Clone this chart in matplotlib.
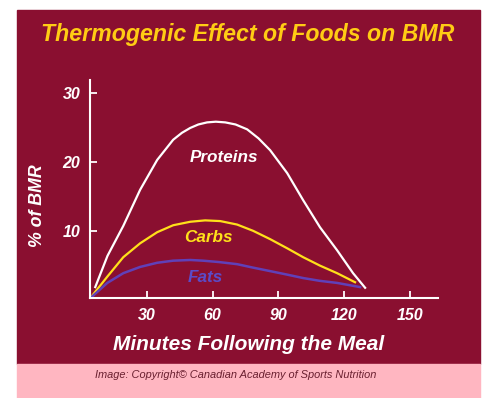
import matplotlib.pyplot as plt
from matplotlib.patches import Rectangle

# valores (minutos, % de BMR)
prot_min = [6.4, 12.0, 19.2, 26.9, 34.7, 42.0, 46.0, 49.8, 53.5, 57.5, 61.5, 65.8, 70.5, 75.8, 81.0,
            86.3, 94.1, 101.4, 109.1, 116.9, 124.2, 129.7]
prot_bmr = [2.0, 6.5, 10.8, 16.0, 20.3, 23.2, 24.2, 24.9, 25.4, 25.7, 25.8, 25.7, 25.4, 24.7, 23.4,
            21.7, 18.4, 14.5, 10.6, 7.3, 4.0, 1.9]

carb_min = [4.1, 11.9, 19.2, 26.9, 34.7, 42.0, 49.8, 56.6, 63.5, 71.2, 78.5, 86.3, 94.0, 101.4, 109.0, 116.9, 125.1]
carb_bmr = [0.4, 3.5, 6.3, 8.3, 9.9, 10.9, 11.4, 11.6, 11.5, 11.0, 10.1, 8.9, 7.6, 6.3, 5.1, 4.0, 2.7]

fat_min = [4.1, 11.9, 19.2, 26.9, 34.7, 42.0, 49.8, 55.7, 63.0, 71.2, 78.5, 86.3, 94.0, 101.4, 109.0, 116.9, 127.4]
fat_bmr = [0.4, 2.6, 4.0, 4.9, 5.5, 5.8, 5.9, 5.8, 5.6, 5.3, 4.8, 4.3, 3.8, 3.3, 2.9, 2.6, 2.0]

xticks = [30, 60, 90, 120, 150]
yticks = [10, 20, 30]

granate = '#8a0f30'
rosa = '#ffb6c1'
fuente = 'Liberation Sans'

fig = plt.figure(figsize=(4.96, 3.98), dpi=100, facecolor='white')
fig.patches.append(Rectangle((17/496, 1-364/398), 463/496, 354/398,
                             transform=fig.transFigure, color=granate, zorder=-2))
fig.patches.append(Rectangle((17/496, 0), 463/496, 34/398,
                             transform=fig.transFigure, color=rosa, zorder=-2))

ax = fig.add_axes([90/496, 1-298/398, 348/496, 218/398])
ax.set_zorder(2)
ax.set_facecolor('none')
ax.plot(prot_min, prot_bmr, color='white', lw=1.6)
ax.plot(carb_min, carb_bmr, color='#ffe01a', lw=1.6)
ax.plot(fat_min, fat_bmr, color='#6040b8', lw=1.8)

ax.set_xlim(4, 163)
ax.set_ylim(0.43, 31.8)
for s in ['top', 'right']:
    ax.spines[s].set_visible(False)
for s in ['left', 'bottom']:
    ax.spines[s].set_color('white')
    ax.spines[s].set_linewidth(1.5)
ax.set_xticks(xticks)
ax.set_yticks(yticks)
ax.tick_params(direction='in', length=5, width=1.3, color='white', labelcolor='white', pad=7)
for t in ax.get_xticklabels() + ax.get_yticklabels():
    t.set_fontfamily(fuente)
    t.set_fontweight('bold')
    t.set_fontstyle('italic')
    t.set_fontsize(11.5)

ax.text(65, 20.6, 'Proteins', color='white', fontsize=12.3, fontweight='bold', fontstyle='italic',
        family=fuente, ha='center', va='center')
ax.text(58, 9.2, 'Carbs', color='#ffe01a', fontsize=12.3, fontweight='bold', fontstyle='italic',
        family=fuente, ha='center', va='center')
ax.text(56.5, 3.4, 'Fats', color='#5b4bc8', fontsize=12.3, fontweight='bold', fontstyle='italic',
        family=fuente, ha='center', va='center')

fig.text(248/496, 1-34/398, 'Thermogenic Effect of Foods on BMR', color='#ffcc14',
         fontsize=16.7, fontweight='bold', fontstyle='italic', family=fuente, ha='center', va='center')
fig.text(249/496, 1-345/398, 'Minutes Following the Meal', color='white',
         fontsize=15, fontweight='bold', fontstyle='italic', family=fuente, ha='center', va='center')
fig.text(38/496, 1-206/398, '% of BMR', color='white', rotation=90,
         fontsize=12.8, fontweight='bold', fontstyle='italic', family=fuente, ha='center', va='center')
fig.text(95/496, 1-375/398, 'Image: Copyright© Canadian Academy of Sports Nutrition', color='#6a2030',
         fontsize=7.9, fontstyle='italic', family=fuente, ha='left', va='center')

fig.savefig('out.png', dpi=100, facecolor='white')
